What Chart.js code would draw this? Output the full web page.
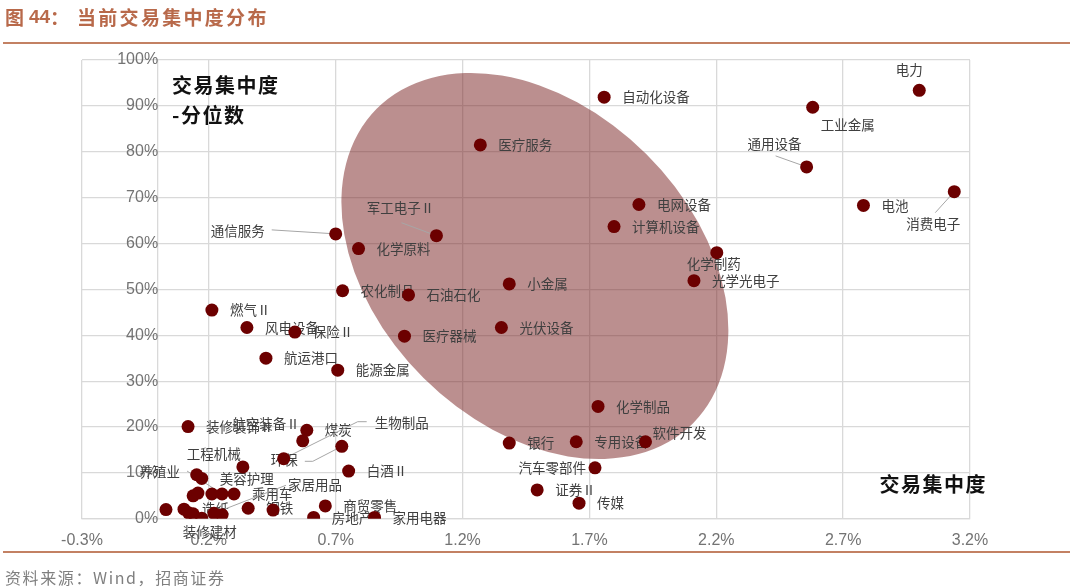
<!DOCTYPE html>
<html>
<head>
<meta charset="utf-8">
<script src="https://cdn.jsdelivr.net/npm/chart.js@4.4.1/dist/chart.umd.min.js"></script>
<style>
  body { margin: 0; background: #fff; }
  #wrap { position: relative; width: 1070px; height: 588px; overflow: hidden; font-family: "Noto Sans CJK SC", sans-serif; }
  #c { position: absolute; left: 0; top: 0; }
  .title { position: absolute; top: 4px; line-height: 26px; color: #b8694a; font-weight: bold; font-size: 19px; white-space: nowrap; }
  .num { font-family: "Liberation Sans", Arial, sans-serif; }
  .rule { position: absolute; left: 3px; right: 0; height: 2px; background: #c38163; }
  .source { position: absolute; left: 5px; top: 565px; line-height: 24px; color: #7f7f7f; font-size: 16px; letter-spacing: 1.6px; white-space: nowrap; }
</style>
</head>
<body>
<div id="wrap">
  <canvas id="c" width="1070" height="588"></canvas>
  <div class="title" style="left:5px">图</div>
  <div class="title num" style="left:29px">44</div>
  <div class="title" style="left:50px">：</div>
  <div class="title" style="left:77px; letter-spacing:2.3px">当前交易集中度分布</div>
  <div class="rule" style="top:42px"></div>
  <div class="rule" style="top:551px"></div>
  <div class="source">资料来源：Wind，招商证券</div>
</div>
<script>
// 行业名称（空字符串 = 图上未标注）
const names = [
  '电力', '工业金属', '自动化设备', '通用设备', '消费电子', '电池', '电网设备', '计算机设备',
  '化学制药', '光学光电子', '医疗服务', '军工电子Ⅱ', '通信服务', '化学原料', '农化制品', '石油石化',
  '小金属', '光伏设备', '医疗器械', '燃气Ⅱ', '风电设备', '保险Ⅱ', '航运港口', '能源金属',
  '化学制品', '银行', '专用设备', '软件开发', '汽车零部件', '证券Ⅱ', '传媒',
  '装修装饰Ⅱ', '煤炭', '航空装备Ⅱ', '生物制品', '环保', '白酒Ⅱ', '', '工程机械', '美容护理',
  '', '', '养殖业', '', '乘用车', '', '造纸', '', '', '装修建材', '家居用品', '',
  '钢铁', '', '房地产', '商贸零售', '家用电器'
];
// 交易集中度 (%)
const concentration = [
  3.00, 2.58, 1.758, 2.556, 3.138, 2.78, 1.895, 1.797,
  2.202, 2.112, 1.27, 1.097, 0.70, 0.79, 0.727, 0.987,
  1.384, 1.353, 0.971, 0.212, 0.35, 0.539, 0.425, 0.708,
  1.734, 1.384, 1.648, 1.921, 1.722, 1.494, 1.659,
  0.118, 0.586, 0.57, 0.495, 0.724, 0.751, 0.334, 0.152, 0.172,
  0.138, 0.157, 0.252, 0.212, 0.299, 0.031, 0.102, 0.12, 0.138, 0.172, 0.22, 0.252,
  0.355, 0.453, 0.613, 0.659, 0.853
];
// 交易集中度分位数 (%)
const percentile = [
  93.4, 89.7, 91.9, 76.7, 71.3, 68.3, 68.5, 63.7,
  58.0, 51.9, 81.5, 61.7, 62.1, 58.9, 49.7, 48.8,
  51.2, 41.7, 39.8, 45.5, 41.7, 40.7, 35.0, 32.4,
  24.5, 16.5, 16.8, 16.8, 11.1, 6.3, 3.4,
  20.1, 19.3, 17.0, 13.1, 15.8, 10.4, 11.3, 9.6, 8.8,
  5.0, 5.6, 5.4, 5.4, 5.4, 2.0, 2.1, 1.3, 1.1, 0.1, 1.2, 0.9,
  2.3, 1.9, 0.3, 2.8, 0.3
];
const xTickLabels = ['-0.3%', '0.2%', '0.7%', '1.2%', '1.7%', '2.2%', '2.7%', '3.2%'];
const yTickLabels = ['0%', '10%', '20%', '30%', '40%', '50%', '60%', '70%', '80%', '90%', '100%'];
// 阴影椭圆中心（数据坐标）
const ellipseCenter = [1.485, 55.1];

// 标签摆放：默认在点右侧，例外如下（像素偏移，lead = 引线起点偏移）
const labelSpots = {
  '电力': { dx: -10, dy: -20, align: 'center' },
  '工业金属': { dx: 8, dy: 18, align: 'left' },
  '通用设备': { dx: -5, dy: -23, align: 'right', lead: [-31, -11] },
  '消费电子': { dx: -21, dy: 32, align: 'center', lead: [-19, 21] },
  '化学制药': { dx: -3, dy: 11, align: 'center' },
  '军工电子Ⅱ': { dx: -36, dy: -28, align: 'center', lead: [-35, -13] },
  '通信服务': { dx: -71, dy: -3, align: 'right', lead: [-64, -4] },
  '软件开发': { dx: 7, dy: -9, align: 'left' },
  '汽车零部件': { dx: -9, dy: 0, align: 'right' },
  '航空装备Ⅱ': { dx: -3, dy: -17, align: 'right' },
  '生物制品': { dx: 91, dy: -36, align: 'left', lead: [74, -37], lead2: [83, -37] },
  '环保': { dx: -44, dy: 14, align: 'right', lead: [-29, 15], lead2: [-37, 15] },
  '工程机械': { dx: 17, dy: -21, align: 'center' },
  '养殖业': { dx: -42, dy: -22, align: 'right', lead: [-35, -23] },
  '家居用品': { dx: 74, dy: -28, align: 'left', lead: [72, -28] },
  '装修建材': { dx: 8, dy: 14, align: 'center' }
};

const points = names.map((n, i) => ({ x: concentration[i], y: percentile[i] }));

const backdrop = {
  id: 'backdrop',
  beforeDatasetsDraw(chart) {
    const { ctx, scales: { x, y } } = chart;
    ctx.save();
    // 椭圆
    ctx.beginPath();
    ctx.ellipse(x.getPixelForValue(ellipseCenter[0]), y.getPixelForValue(ellipseCenter[1]),
      223, 158, 44.8 * Math.PI / 180, 0, Math.PI * 2);
    ctx.fillStyle = 'rgba(120, 32, 32, 0.5)';
    ctx.fill();

    // 数据标签
    const meta = chart.getDatasetMeta(0);
    ctx.font = '13.5px "Noto Sans CJK SC"';
    ctx.textBaseline = 'middle';
    for (let i = 0; i < names.length; i++) {
      if (!names[i]) continue;
      const p = meta.data[i];
      const s = labelSpots[names[i]] || { dx: 18, dy: 0, align: 'left' };
      if (s.lead) {
        ctx.beginPath();
        ctx.strokeStyle = '#a6a6a6';
        ctx.lineWidth = 1;
        if (s.lead2) ctx.moveTo(p.x + s.lead2[0], p.y + s.lead2[1]);
        else ctx.moveTo(p.x + s.lead[0], p.y + s.lead[1]);
        ctx.lineTo(p.x + s.lead[0], p.y + s.lead[1]);
        ctx.lineTo(p.x, p.y);
        ctx.stroke();
      }
      ctx.fillStyle = '#404040';
      ctx.textAlign = s.align;
      ctx.fillText(names[i], p.x + s.dx, p.y + s.dy);
    }
    ctx.restore();
  },
  afterDraw(chart) {
    const { ctx, chartArea } = chart;
    ctx.save();
    ctx.font = 'bold 20px "Noto Sans CJK SC"';
    ctx.letterSpacing = '1.5px';
    ctx.fillStyle = '#111';
    ctx.textBaseline = 'middle';
    ctx.textAlign = 'left';
    ctx.fillText('交易集中度', chartArea.left + 90, chartArea.top + 25);
    ctx.fillText('-分位数', chartArea.left + 90, chartArea.top + 55);
    ctx.textAlign = 'right';
    ctx.fillText('交易集中度', chartArea.right + 17, chartArea.bottom - 34);
    ctx.restore();
  }
};

const gridColor = '#d9d9d9';
const tickFont = { family: '"Liberation Sans", Arial, sans-serif', size: 16 };

new Chart(document.getElementById('c'), {
  type: 'scatter',
  data: {
    datasets: [{
      data: points,
      backgroundColor: '#6c0000',
      borderWidth: 0,
      pointRadius: 6.5,
      pointHoverRadius: 6.5
    }]
  },
  options: {
    responsive: false,
    animation: false,
    layout: { padding: { left: 82, right: 100, top: 60, bottom: 26 } },
    plugins: { legend: { display: false }, tooltip: { enabled: false } },
    scales: {
      x: {
        type: 'linear', min: -0.3, max: 3.2, position: 'bottom',
        ticks: {
          stepSize: 0.5, autoSkip: false, maxRotation: 0, padding: 12,
          color: '#737373', font: tickFont,
          callback: (v, i) => xTickLabels[i]
        },
        grid: { color: gridColor, lineWidth: 1.3, drawTicks: false },
        border: { color: gridColor, width: 1.3 }
      },
      y: {
        type: 'linear', min: 0, max: 100, position: { x: 0 },
        ticks: {
          stepSize: 10, padding: 15, color: '#737373', font: tickFont,
          callback: (v, i) => yTickLabels[i]
        },
        grid: { color: gridColor, lineWidth: 1.3, drawTicks: false },
        border: { color: gridColor, width: 1.3 }
      }
    }
  },
  plugins: [backdrop]
});
</script>
</body>
</html>
